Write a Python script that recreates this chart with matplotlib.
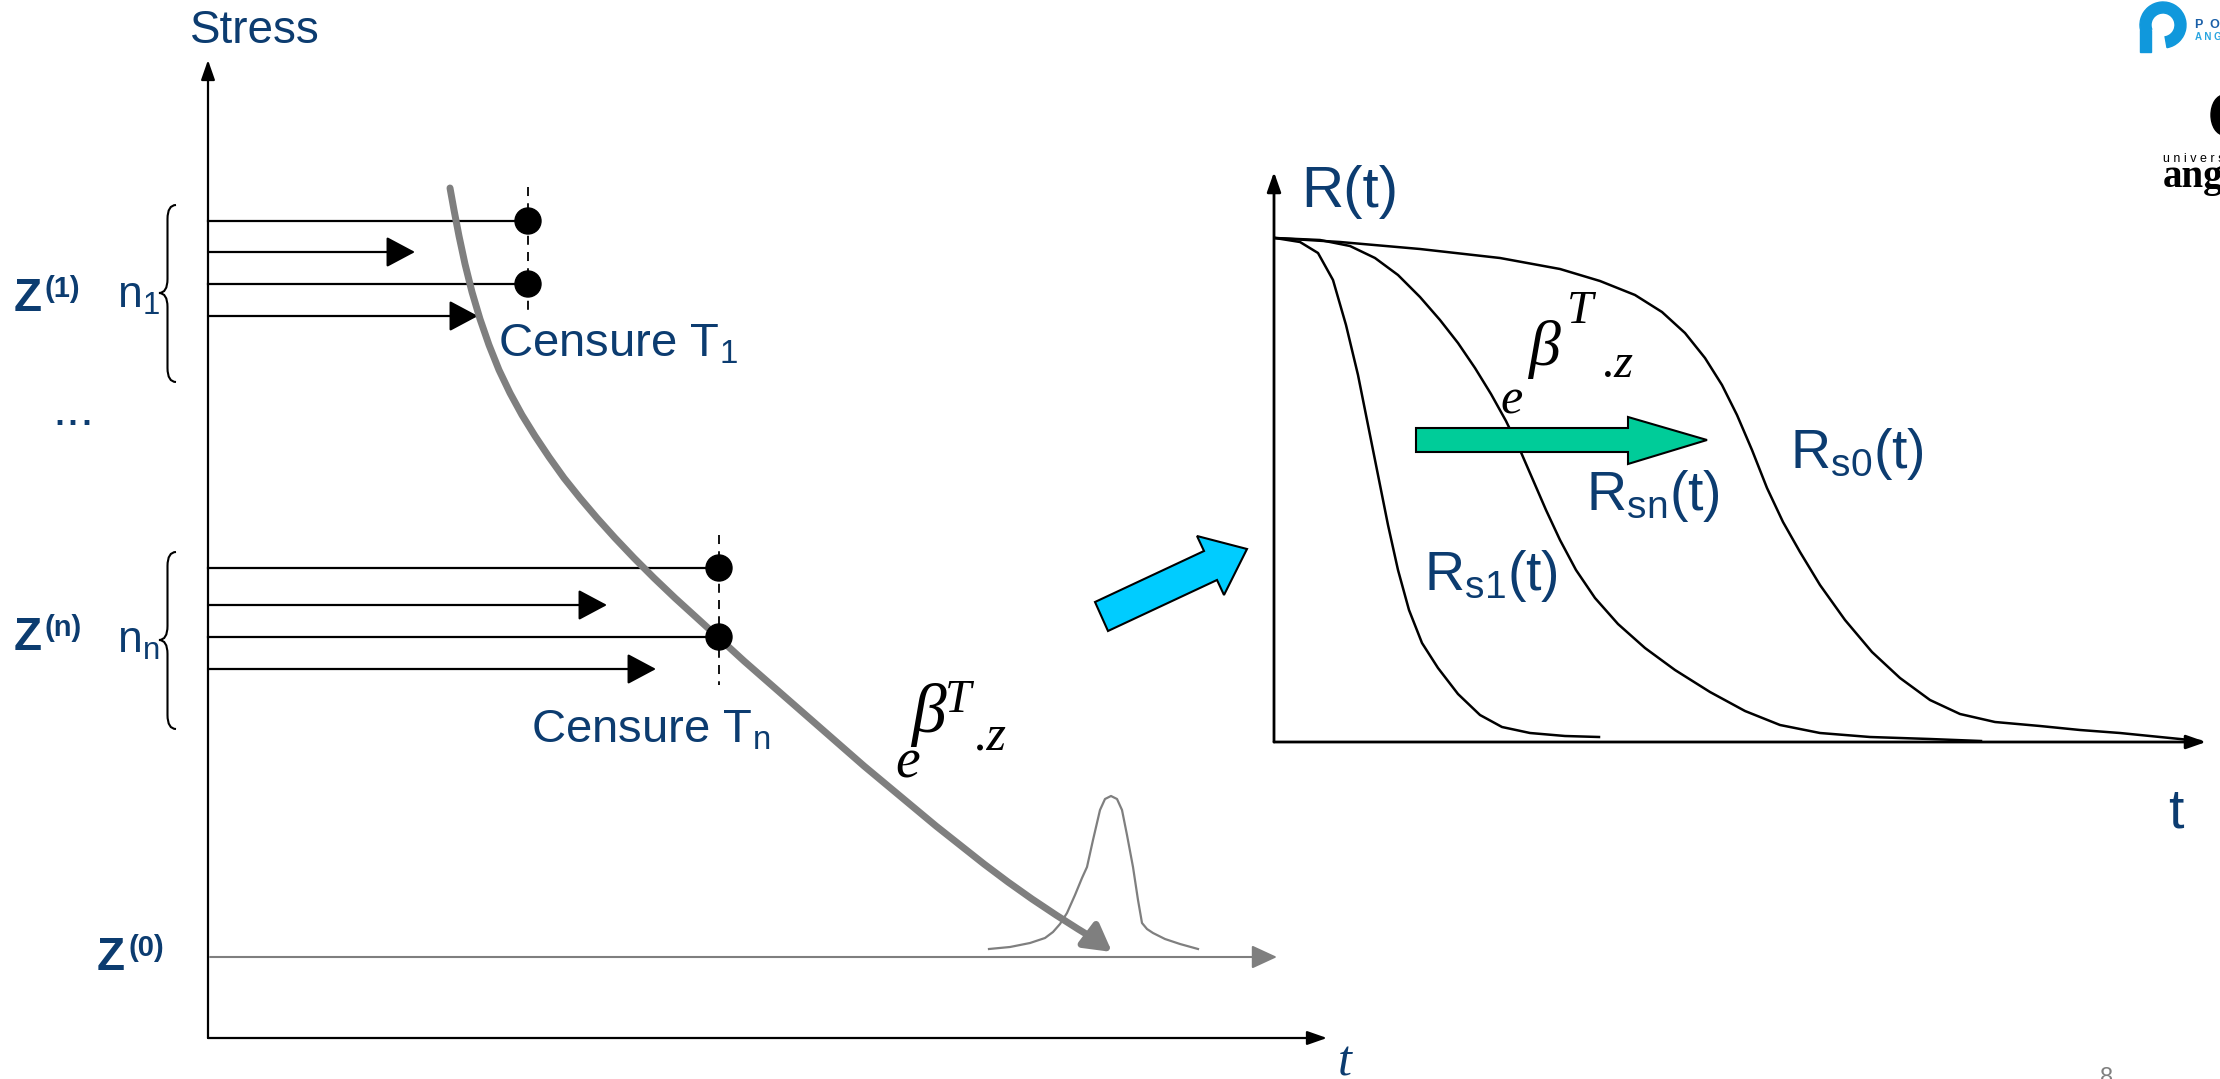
import numpy as np
import matplotlib.pyplot as plt
from matplotlib.patches import Circle, Polygon, FancyArrowPatch, Ellipse, Wedge, Rectangle, PathPatch
from matplotlib.path import Path

plt.rcParams['font.family'] = ['Liberation Sans', 'DejaVu Sans']
plt.rcParams['mathtext.fontset'] = 'custom'
plt.rcParams['mathtext.rm'] = 'Liberation Sans'
plt.rcParams['mathtext.it'] = 'Liberation Sans:italic'
plt.rcParams['mathtext.bf'] = 'Liberation Sans:bold'

NAVY = '#0c3c70'
GREY = '#7f7f7f'
SERIF = 'Liberation Serif'

# ---- left panel: stress levels over time (slide pixel coordinates) ----
stress_x0, stress_y0 = 208, 1038
stress_top = 60
stress_right = 1327

# unit lifetimes for each stress level: row height, end time, censored?
group1_y = [221, 252, 284, 316]
group1_end = [528, 415, 528, 478]
groupn_y = [568, 605, 637, 669]
groupn_end = [719, 607, 719, 656]
censored = [True, False, True, False]
censure1_x, censuren_x = 528, 719

# acceleration law e^(beta^T z) pulling lifetimes back to Z(0)
accel_x = [450, 454, 459, 465, 472, 480, 489, 499, 510, 522, 535, 549, 564, 580,
           597, 615, 634, 654, 675, 697, 720, 744, 768, 792, 816, 840, 864, 888,
           912, 936, 960, 984, 1008, 1032, 1056, 1078, 1096, 1112]
accel_y = [188, 210, 236, 264, 292, 319, 345, 370, 393, 415, 436, 457, 478, 498,
           518, 538, 558, 578, 598, 618, 639, 661, 682, 703, 724, 745, 766, 786,
           806, 826, 845, 864, 882, 899, 915, 929, 940, 952]

# lifetime density at nominal stress
bump_x = [989, 1010, 1030, 1045, 1053, 1060, 1067, 1075, 1082, 1087, 1093, 1100,
          1105, 1111, 1117, 1122, 1127, 1133, 1138, 1142, 1147, 1153, 1165, 1180, 1198]
bump_y = [949, 947, 943, 938, 932, 924, 913, 895, 878, 867, 840, 810,
          799, 796, 799, 810, 835, 867, 900, 923, 929, 933, 939, 944, 949]

z0_y = 957
z0_end = 1277

# ---- right panel: reliability functions ----
rel_x0, rel_y0 = 1274, 742
rel_top = 172
rel_right = 2206

rs1_x = [1275, 1300, 1318, 1333, 1346, 1358, 1368, 1378, 1388, 1398, 1409, 1422,
         1438, 1458, 1480, 1502, 1530, 1565, 1599]
rs1_y = [238, 242, 253, 280, 325, 375, 425, 475, 525, 570, 610, 643,
         668, 694, 715, 727, 733, 736, 737]
rsn_x = [1275, 1320, 1350, 1375, 1398, 1420, 1440, 1458, 1475, 1491, 1506, 1520,
         1533, 1546, 1560, 1576, 1595, 1618, 1645, 1675, 1710, 1745, 1780, 1820,
         1870, 1930, 1981]
rsn_y = [238, 240, 246, 258, 275, 297, 320, 343, 368, 394, 421, 450,
         480, 510, 540, 570, 598, 624, 648, 670, 692, 711, 725, 733,
         737, 739, 741]
rs0_x = [1275, 1340, 1420, 1500, 1560, 1600, 1635, 1662, 1685, 1705, 1722, 1737,
         1752, 1767, 1783, 1800, 1820, 1845, 1872, 1900, 1930, 1960, 1995, 2040,
         2080, 2120, 2160, 2200]
rs0_y = [238, 242, 249, 258, 269, 281, 295, 312, 333, 358, 385, 415,
         450, 488, 522, 552, 585, 620, 652, 678, 700, 714, 722, 726,
         730, 733, 737, 741]

# block arrows
shift_arrow = [(1416, 428), (1628, 428), (1628, 417), (1707, 440),
               (1628, 464), (1628, 452), (1416, 452)]
link_arrow = [(1095, 602), (1204, 551), (1197, 536), (1247, 549),
              (1224, 595), (1217, 580), (1108, 631)]

fig = plt.figure(figsize=(22.2, 10.79), dpi=100)
ax = fig.add_axes([0, 0, 1, 1])
ax.set_xlim(0, 2220)
ax.set_ylim(1079, 0)
ax.axis('off')


def axis_arrow(x0, y0, x1, y1, color='k', lw=1.5, hl=1.0, hw=0.35):
    ax.annotate('', xy=(x1, y1), xytext=(x0, y0),
                arrowprops=dict(arrowstyle=f'-|>,head_length={hl},head_width={hw}',
                                lw=lw, color=color, shrinkA=0, shrinkB=0,
                                mutation_scale=12))


def brace(x_tip, y_top, y_bot, y_tip, width=17, r=14):
    xm = x_tip + width / 2
    xr = x_tip + width
    verts = [(xr, y_top), (xm, y_top), (xm, y_top + r),
             (xm, y_tip - r), (xm, y_tip), (x_tip, y_tip),
             (xm, y_tip), (xm, y_tip + r),
             (xm, y_bot - r), (xm, y_bot), (xr, y_bot)]
    codes = [Path.MOVETO, Path.CURVE3, Path.CURVE3,
             Path.LINETO, Path.CURVE3, Path.CURVE3,
             Path.CURVE3, Path.CURVE3,
             Path.LINETO, Path.CURVE3, Path.CURVE3]
    ax.add_patch(PathPatch(Path(verts, codes), fc='none', ec='k', lw=1.5))


def unit_lines(rows, ends, cx, dash_top, dash_bot):
    for y, xe, cens in zip(rows, ends, censored):
        if cens:
            ax.plot([stress_x0, xe], [y, y], color='k', lw=1.6)
            ax.add_patch(Circle((xe, y), 13, color='k', zorder=4))
        else:
            ax.annotate('', xy=(xe, y), xytext=(stress_x0, y),
                        arrowprops=dict(arrowstyle='-|>,head_length=0.9,head_width=0.48',
                                        lw=1.6, color='k', shrinkA=0, shrinkB=0,
                                        mutation_scale=20))
    ax.plot([cx, cx], [dash_top, dash_bot], color='k', lw=1.3, ls=(0, (5, 4)))


def stress_label(x, y, sup):
    ax.text(x, y, 'Z', fontsize=33, weight='bold', color=NAVY)
    ax.text(x + 31, y - 14, f'({sup})', fontsize=21, weight='bold', color=NAVY)


# left axes
axis_arrow(stress_x0, stress_y0, stress_x0, stress_top, lw=1.6)
axis_arrow(stress_x0, stress_y0, stress_right, stress_y0, lw=1.6)
ax.text(190, 43, 'Stress', fontsize=33, color=NAVY)
ax.text(1338, 1075, 't', fontsize=36, family=SERIF, style='italic', color=NAVY)

unit_lines(group1_y, group1_end, censure1_x, 187, 316)
unit_lines(groupn_y, groupn_end, censuren_x, 535, 685)
brace(159, 205, 382, 293)
brace(159, 552, 729, 640)

stress_label(14, 311, '1')
stress_label(14, 650, 'n')
stress_label(97, 970, '0')
ax.text(117, 308, r'n$_{1}$', fontsize=32, color=NAVY)
ax.text(117, 653, r'n$_{\mathrm{n}}$', fontsize=32, color=NAVY)
ax.text(52, 425, '...', fontsize=36, color=NAVY)
ax.text(498, 357, r'Censure T$_{1}$', fontsize=34, color=NAVY)
ax.text(531, 742, r'Censure T$_{\mathrm{n}}$', fontsize=34, color=NAVY)

# nominal stress level and density
axis_arrow(stress_x0 + 2, z0_y, z0_end, z0_y, color=GREY, lw=1.5, hl=1.3, hw=0.6)
ax.plot(bump_x, bump_y, color=GREY, lw=1.6)

accel = FancyArrowPatch(path=Path(np.column_stack([accel_x, accel_y])),
                        arrowstyle='-|>,head_length=0.8,head_width=0.45',
                        mutation_scale=20, lw=5, color=GREY, zorder=3)
ax.add_patch(accel)

# e^{beta^T . z} next to the curve
ax.text(895, 777, 'e', fontsize=40, family=SERIF, style='italic')
ax.text(911, 732, 'β', fontsize=50, family=SERIF, style='italic')
ax.text(945, 712, 'T', fontsize=34, family=SERIF, style='italic')
ax.text(975, 750, '.z', fontsize=36, family=SERIF, style='italic')

# link arrow between the panels
ax.add_patch(Polygon(link_arrow, closed=True, fc='#00ccff', ec='k', lw=1.5))

# right axes
axis_arrow(rel_x0, rel_y0, rel_x0, rel_top, lw=2)
axis_arrow(rel_x0, rel_y0, rel_right, rel_y0, lw=2)
ax.text(1301, 207, 'R(t)', fontsize=42, color=NAVY)
ax.text(2168, 828, 't', fontsize=40, color=NAVY)

for cx, cy in [(rs1_x, rs1_y), (rsn_x, rsn_y), (rs0_x, rs0_y)]:
    ax.plot(cx, cy, color='k', lw=1.8)

ax.add_patch(Polygon(shift_arrow, closed=True, fc='#00cc99', ec='k', lw=1.5, zorder=3))

ax.text(1500, 413, 'e', fontsize=36, family=SERIF, style='italic')
ax.text(1528, 365, 'β', fontsize=46, family=SERIF, style='italic')
ax.text(1567, 323, 'T', fontsize=34, family=SERIF, style='italic')
ax.text(1603, 377, '.z', fontsize=35, family=SERIF, style='italic')

ax.text(1790, 468, r'R$_{\mathrm{s0}}$(t)', fontsize=40, color=NAVY)
ax.text(1586, 510, r'R$_{\mathrm{sn}}$(t)', fontsize=40, color=NAVY)
ax.text(1424, 590, r'R$_{\mathrm{s1}}$(t)', fontsize=40, color=NAVY)

# logos in the corner
ax.add_patch(Wedge((2163, 25), 23, 160, 440, width=11, color='#1098dc'))
ax.add_patch(Rectangle((2140, 30), 11, 22, color='#1098dc'))
ax.text(2195, 28, 'P  O  L  Y', fontsize=9, weight='bold', color='#1a5fa8')
ax.text(2195, 40, 'A N G E R S', fontsize=7, weight='bold', color='#2aa5e0')
ax.add_patch(Ellipse((2224, 115), 26, 40, color='k'))
ax.text(2163, 162, 'u n i v e r s', fontsize=9, color='k')
ax.text(2163, 187, 'angers', fontsize=28, family=SERIF, weight='bold', color='k')

# page number
ax.text(2107, 1084, '8', fontsize=17, color='#808080', ha='center')

fig.savefig('out.png', dpi=100)
